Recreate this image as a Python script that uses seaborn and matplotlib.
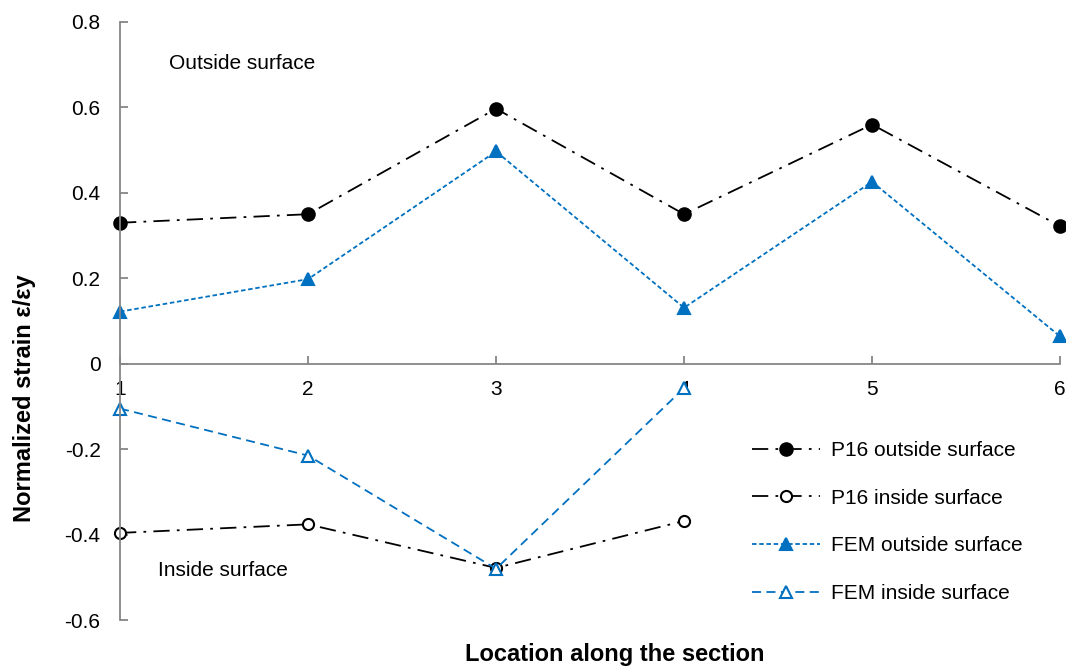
import matplotlib
import pandas as pd
import seaborn as sns
from matplotlib import pyplot as plt

sns.set_style("white")
matplotlib.rcParams["font.family"] = ["Liberation Sans", "DejaVu Sans"]
matplotlib.rcParams["text.color"] = "black"
matplotlib.rcParams["axes.labelcolor"] = "black"

locations_out = [1, 2, 3, 4, 5, 6]
locations_in = [1, 2, 3, 4]
p16_outside = [0.33, 0.35, 0.597, 0.35, 0.56, 0.322]
p16_inside = [-0.396, -0.376, -0.478, -0.368]
fem_outside = [0.122, 0.198, 0.497, 0.131, 0.426, 0.064]
fem_inside = [-0.105, -0.215, -0.48, -0.057]

blue = "#0070C0"

series = [
    ("P16 outside surface", locations_out, p16_outside,
     dict(color="black", marker="o", markersize=9, mfc="black", mec="black", dashes=(9, 4, 1.5, 4))),
    ("P16 inside surface", locations_in, p16_inside,
     dict(color="black", marker="o", markersize=8, mfc="white", mec="black", dashes=(9, 4, 1.5, 4))),
    ("FEM outside surface", locations_out, fem_outside,
     dict(color=blue, marker="^", markersize=9, mfc=blue, mec=blue, dashes=(2.5, 1.5))),
    ("FEM inside surface", locations_in, fem_inside,
     dict(color=blue, marker="^", markersize=8, mfc="white", mec=blue, dashes=(5, 3))),
]

fig = plt.figure(figsize=(10.66, 6.66), dpi=100)
ax = fig.add_axes([0.1126, 0.069, 0.8818, 0.898])

for label, xs, ys, style in series:
    df = pd.DataFrame({"x": xs, "y": ys})
    sns.lineplot(data=df, x="x", y="y", ax=ax, label=label, linewidth=1.3,
                 markeredgewidth=1.5, clip_on=False, **style)

ax.set_xlim(1, 6)
ax.set_ylim(-0.6, 0.8)
ax.set_yticks([-0.6, -0.4, -0.2, 0, 0.2, 0.4, 0.6, 0.8])
ax.set_yticklabels(["-0.6", "-0.4", "-0.2", "0", "0.2", "0.4", "0.6", "0.8"])
ax.set_xticks(locations_out)

ax.spines["bottom"].set_position(("data", 0))
ax.spines["top"].set_visible(False)
ax.spines["right"].set_visible(False)
for side in ["left", "bottom"]:
    ax.spines[side].set_color("#868686")
    ax.spines[side].set_linewidth(1.3)
ax.tick_params(axis="both", direction="in", length=6, width=1.3, color="#868686",
               labelsize=15, labelcolor="black")
ax.tick_params(axis="y", pad=14, left=True)
ax.tick_params(axis="x", pad=12, bottom=True)

ax.set_xlabel("Location along the section", fontsize=17, fontweight="bold")
ax.xaxis.set_label_coords(615 / 1066, 11 / 666, transform=fig.transFigure)
ax.xaxis.label.set_va("center")
ax.set_ylabel("Normalized strain ε/εy", fontsize=17, fontweight="bold")
ax.yaxis.set_label_coords(25 / 1066, 1 - 398 / 666, transform=fig.transFigure)
ax.yaxis.label.set_va("center")

ax.text(0.052, 0.93, "Outside surface", transform=ax.transAxes, fontsize=15, va="center")
ax.text(0.040, 0.083, "Inside surface", transform=ax.transAxes, fontsize=15, va="center")

ax.legend(loc="lower right", bbox_to_anchor=(0.98, -0.003), frameon=False, fontsize=15,
          handlelength=3.3, labelspacing=1.38, handletextpad=0.5)

fig.savefig("out.png", dpi=100)
